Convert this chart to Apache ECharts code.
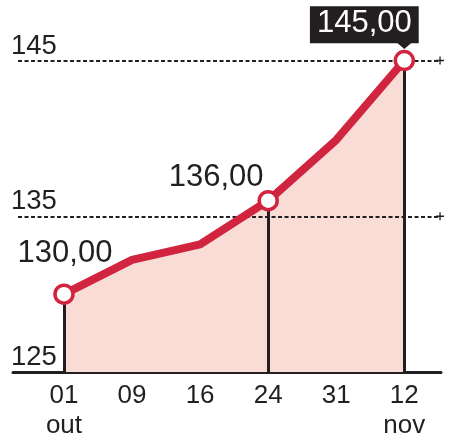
<!DOCTYPE html>
<html>
<head>
<meta charset="utf-8">
<script src="https://cdn.jsdelivr.net/npm/echarts@6/dist/echarts.min.js"></script>
<style>html,body{margin:0;padding:0;background:#fff}#c{width:454px;height:441px}</style>
</head>
<body>
<div id="c"></div>
<script>
// ---- data ----
const days = ['01', '09', '16', '24', '31', '12'];
const months = ['out', '', '', '', '', 'nov'];
const values = [130, 132.2, 133.2, 136, 139.9, 145];
const markedIdx = [0, 3, 5];
const refLines = [135, 145];
const yMin = 125, yMax = 145, yStep = 10;

// ---- style ----
const RED = '#d1243f', PINK = '#f9dcd6', INK = '#231f20';
const FONT = '"Liberation Sans", Arial, sans-serif';
const xMin = -0.749, xMax = 5.539;
const plusPath = 'path://M0,4.2H10V5.8H0Z M4.2,0H5.8V10H4.2Z';

const fmt = v => v.toFixed(2).replace('.', ',');
const idx = days.map((d, i) => i);
const pts = values.map((v, i) => [i, v]);

const labelCfg = {
  0: {position: 'top', distance: 15, offset: [1, 0]},
  3: {position: 'top', distance: 5, offset: [-52, 8]},
  5: {position: 'top', distance: 6.5, offset: [-40, 0], color: '#fff',
      backgroundColor: INK, padding: [2, 7, 5, 7]}
};

const symbolData = pts.map((p, i) => {
  if (markedIdx.indexOf(i) < 0) return {value: p, symbol: 'none', label: {show: false}};
  return {value: p, symbol: 'circle', label: Object.assign({show: true}, labelCfg[i])};
});

const dashLines = refLines.map(v => [
  {coord: [-0.675, v], symbol: 'none', lineStyle: {type: [4, 2.5], width: 2, color: INK}},
  {coord: [5.525, v], symbol: plusPath, symbolSize: 8}
]);
const vertLines = markedIdx.map(i => [
  {coord: [i, values[i]], symbol: 'none', lineStyle: {type: 'solid', width: 3, color: INK}},
  {coord: [i, yMin], symbol: 'none'}
]);

const chart = echarts.init(document.getElementById('c'), null, {renderer: 'canvas'});
chart.setOption({
  animation: false,
  textStyle: {fontFamily: FONT},
  grid: {left: 13, right: 13, top: 60.5, bottom: 67.5},
  xAxis: {
    type: 'value', min: xMin, max: xMax,
    axisLine: {show: true, lineStyle: {color: INK, width: 3}},
    axisTick: {show: false},
    splitLine: {show: false},
    axisLabel: {
      customValues: idx,
      formatter: v => days[v] + '\n' + months[v],
      fontFamily: FONT, fontSize: 26, lineHeight: 30, color: INK, margin: 9
    }
  },
  yAxis: {
    type: 'value', min: yMin, max: yMax, interval: yStep,
    axisLine: {show: false},
    axisTick: {show: false},
    splitLine: {show: false},
    axisLabel: {
      inside: true, margin: -2, verticalAlign: 'bottom',
      fontFamily: FONT, fontSize: 27.5, lineHeight: 27, color: INK,
      padding: [0, 0, 1, 0]
    }
  },
  series: [
    {
      type: 'line', data: pts, z: 1, symbol: 'none',
      lineStyle: {width: 0},
      areaStyle: {color: PINK, opacity: 1},
      markLine: {
        silent: true, z: 2, animation: false,
        label: {show: false},
        data: dashLines.concat(vertLines)
      }
    },
    {
      type: 'line', data: symbolData, z: 3,
      symbolSize: 18,
      lineStyle: {color: RED, width: 8, join: 'round'},
      itemStyle: {color: '#fff', borderColor: RED, borderWidth: 3.5},
      label: {fontFamily: FONT, fontSize: 31, lineHeight: 30, color: INK,
              formatter: p => fmt(p.value[1])},
      emphasis: {disabled: true},
      markPoint: {
        silent: true, z: 4, animation: false,
        label: {show: false},
        data: [{coord: [5, 145], symbol: 'triangle', symbolRotate: 180,
                symbolSize: [14, 6], symbolOffset: [0, -14.5],
                itemStyle: {color: INK}}]
      }
    }
  ]
});
</script>
</body>
</html>
